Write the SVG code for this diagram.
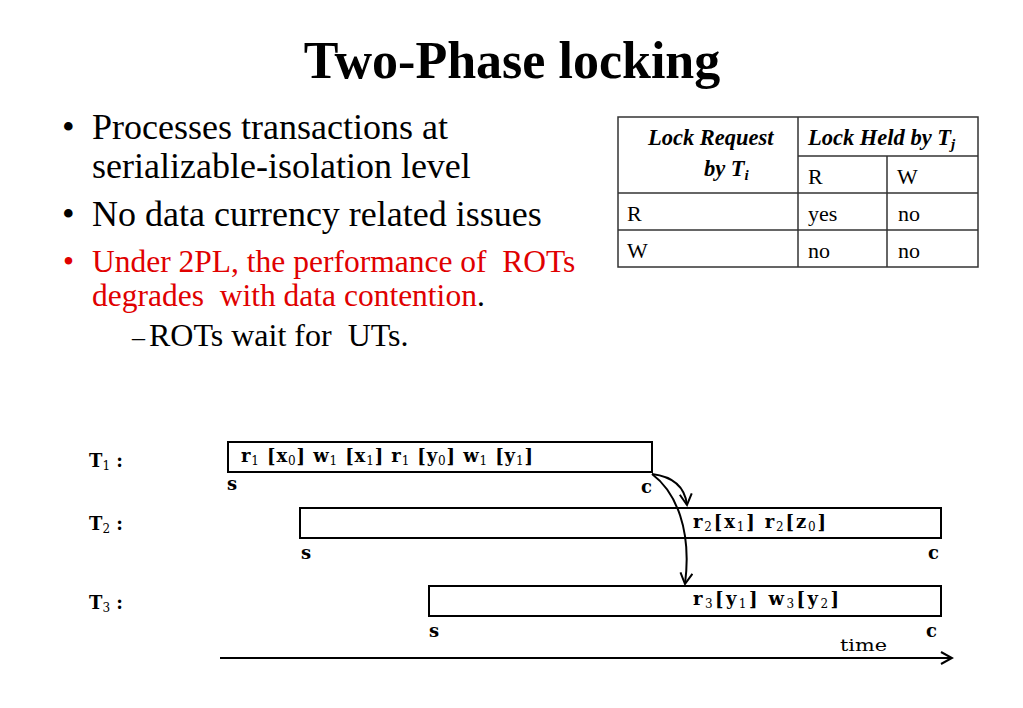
<svg xmlns="http://www.w3.org/2000/svg" width="1023" height="708" viewBox="0 0 1023 708">
<style>
text{white-space:pre}
.title{font-family:"Liberation Serif",serif;font-weight:bold;font-size:52px;fill:#000}
.b{font-family:"Liberation Serif",serif;font-size:36px;fill:#000}
.r{font-family:"Liberation Serif",serif;font-size:31.5px;fill:#e00000}
.s{font-family:"Liberation Serif",serif;font-size:32px;fill:#000}
.th{font-family:"Liberation Serif",serif;font-size:22.5px;font-weight:bold;font-style:italic;fill:#000}
.td{font-family:"Liberation Serif",serif;font-size:22px;fill:#000}
.tl{stroke:#333;stroke-width:1.5;fill:none}
.d{font-family:"DejaVu Serif",serif;font-weight:bold;font-size:18px;fill:#000}
.sub{font-weight:normal;font-size:12px}
.box{fill:#fff;stroke:#000;stroke-width:2}
.conn{fill:none;stroke:#000;stroke-width:2}
</style>
<defs>
<marker id="v" viewBox="0 0 14 14" refX="12" refY="7" markerWidth="14" markerHeight="14" markerUnits="userSpaceOnUse" orient="auto">
<path d="M1 1 L12 7 L1 13" fill="none" stroke="#000" stroke-width="2"/>
</marker>
</defs>
<rect width="1023" height="708" fill="#fff"/>
<text class="title" x="512" y="78" text-anchor="middle">Two-Phase locking</text>

<g id="bullets">
<text class="b" x="62" y="139">•</text>
<text class="b" x="92" y="139">Processes transactions at</text>
<text class="b" x="92" y="178">serializable-isolation level</text>
<text class="b" x="62" y="226">•</text>
<text class="b" x="92" y="226">No data currency related issues</text>
<text class="r" x="63" y="272">•</text>
<text class="r" x="92" y="272">Under 2PL, the performance of  ROTs</text>
<text class="r" x="92" y="306">degrades  with data contention<tspan fill="#000">.</tspan></text>
<text class="s" x="132" y="346" style="font-size:26px">–</text>
<text class="s" x="149" y="346">ROTs wait for  UTs.</text>
</g>

<g id="table">
<rect class="tl" x="618" y="117" width="360" height="150"/>
<line class="tl" x1="798" y1="117" x2="798" y2="267"/>
<line class="tl" x1="887" y1="156" x2="887" y2="267"/>
<line class="tl" x1="798" y1="156" x2="978" y2="156"/>
<line class="tl" x1="618" y1="193" x2="978" y2="193"/>
<line class="tl" x1="618" y1="230" x2="978" y2="230"/>
<text class="th" x="648" y="145">Lock Request</text>
<text class="th" x="704" y="176">by T<tspan font-size="15" dy="4">i</tspan></text>
<text class="th" x="808" y="145">Lock Held by T<tspan font-size="15" dy="4">j</tspan></text>
<text class="td" x="808" y="184">R</text>
<text class="td" x="897" y="184">W</text>
<text class="td" x="627" y="221">R</text>
<text class="td" x="808" y="221">yes</text>
<text class="td" x="898" y="221">no</text>
<text class="td" x="627" y="258">W</text>
<text class="td" x="808" y="258">no</text>
<text class="td" x="898" y="258">no</text>
</g>

<g id="T1">
<text class="d" x="89" y="467">T<tspan class="sub" dy="3">1</tspan><tspan dy="-3"> :</tspan></text>
<rect class="box" x="228" y="442" width="424" height="30"/>
<text class="d" x="241" y="462" textLength="292" lengthAdjust="spacing">r<tspan class="sub" dy="3">1</tspan><tspan dy="-3"> [x</tspan><tspan class="sub" dy="3">0</tspan><tspan dy="-3">] w</tspan><tspan class="sub" dy="3">1</tspan><tspan dy="-3"> [x</tspan><tspan class="sub" dy="3">1</tspan><tspan dy="-3">] r</tspan><tspan class="sub" dy="3">1</tspan><tspan dy="-3"> [y</tspan><tspan class="sub" dy="3">0</tspan><tspan dy="-3">] w</tspan><tspan class="sub" dy="3">1</tspan><tspan dy="-3"> [y</tspan><tspan class="sub" dy="3">1</tspan><tspan dy="-3">]</tspan></text>
<text class="d" x="227" y="490">s</text>
<text class="d" x="641" y="493">c</text>
</g>

<g id="T2">
<text class="d" x="89" y="530">T<tspan class="sub" dy="3">2</tspan><tspan dy="-3"> :</tspan></text>
<rect class="box" x="300" y="508" width="641" height="30"/>
<text class="d" x="693" y="528" textLength="133" lengthAdjust="spacing">r<tspan class="sub" dy="3">2</tspan><tspan dy="-3">[x</tspan><tspan class="sub" dy="3">1</tspan><tspan dy="-3">] r</tspan><tspan class="sub" dy="3">2</tspan><tspan dy="-3">[z</tspan><tspan class="sub" dy="3">0</tspan><tspan dy="-3">]</tspan></text>
<text class="d" x="301" y="559">s</text>
<text class="d" x="928" y="559">c</text>
</g>

<g id="T3">
<text class="d" x="89" y="609">T<tspan class="sub" dy="3">3</tspan><tspan dy="-3"> :</tspan></text>
<rect class="box" x="429" y="586" width="512" height="30"/>
<text class="d" x="693" y="605" textLength="146" lengthAdjust="spacing">r<tspan class="sub" dy="3">3</tspan><tspan dy="-3">[y</tspan><tspan class="sub" dy="3">1</tspan><tspan dy="-3">] w</tspan><tspan class="sub" dy="3">3</tspan><tspan dy="-3">[y</tspan><tspan class="sub" dy="3">2</tspan><tspan dy="-3">]</tspan></text>
<text class="d" x="429" y="637">s</text>
<text class="d" x="926" y="637">c</text>
</g>

<g id="axis">
<text class="d" x="840" y="651" textLength="47" lengthAdjust="spacingAndGlyphs" style="font-weight:normal;font-size:17px">time</text>
</g>

<g id="connectors">
<path class="conn" d="M220 658 H952" marker-end="url(#v)"/>
<path class="conn" d="M652 474 Q684 478 687 505" marker-end="url(#v)"/>
<path class="conn" d="M652 474 C676 492 692 530 685 584" marker-end="url(#v)"/>
</g>
</svg>
